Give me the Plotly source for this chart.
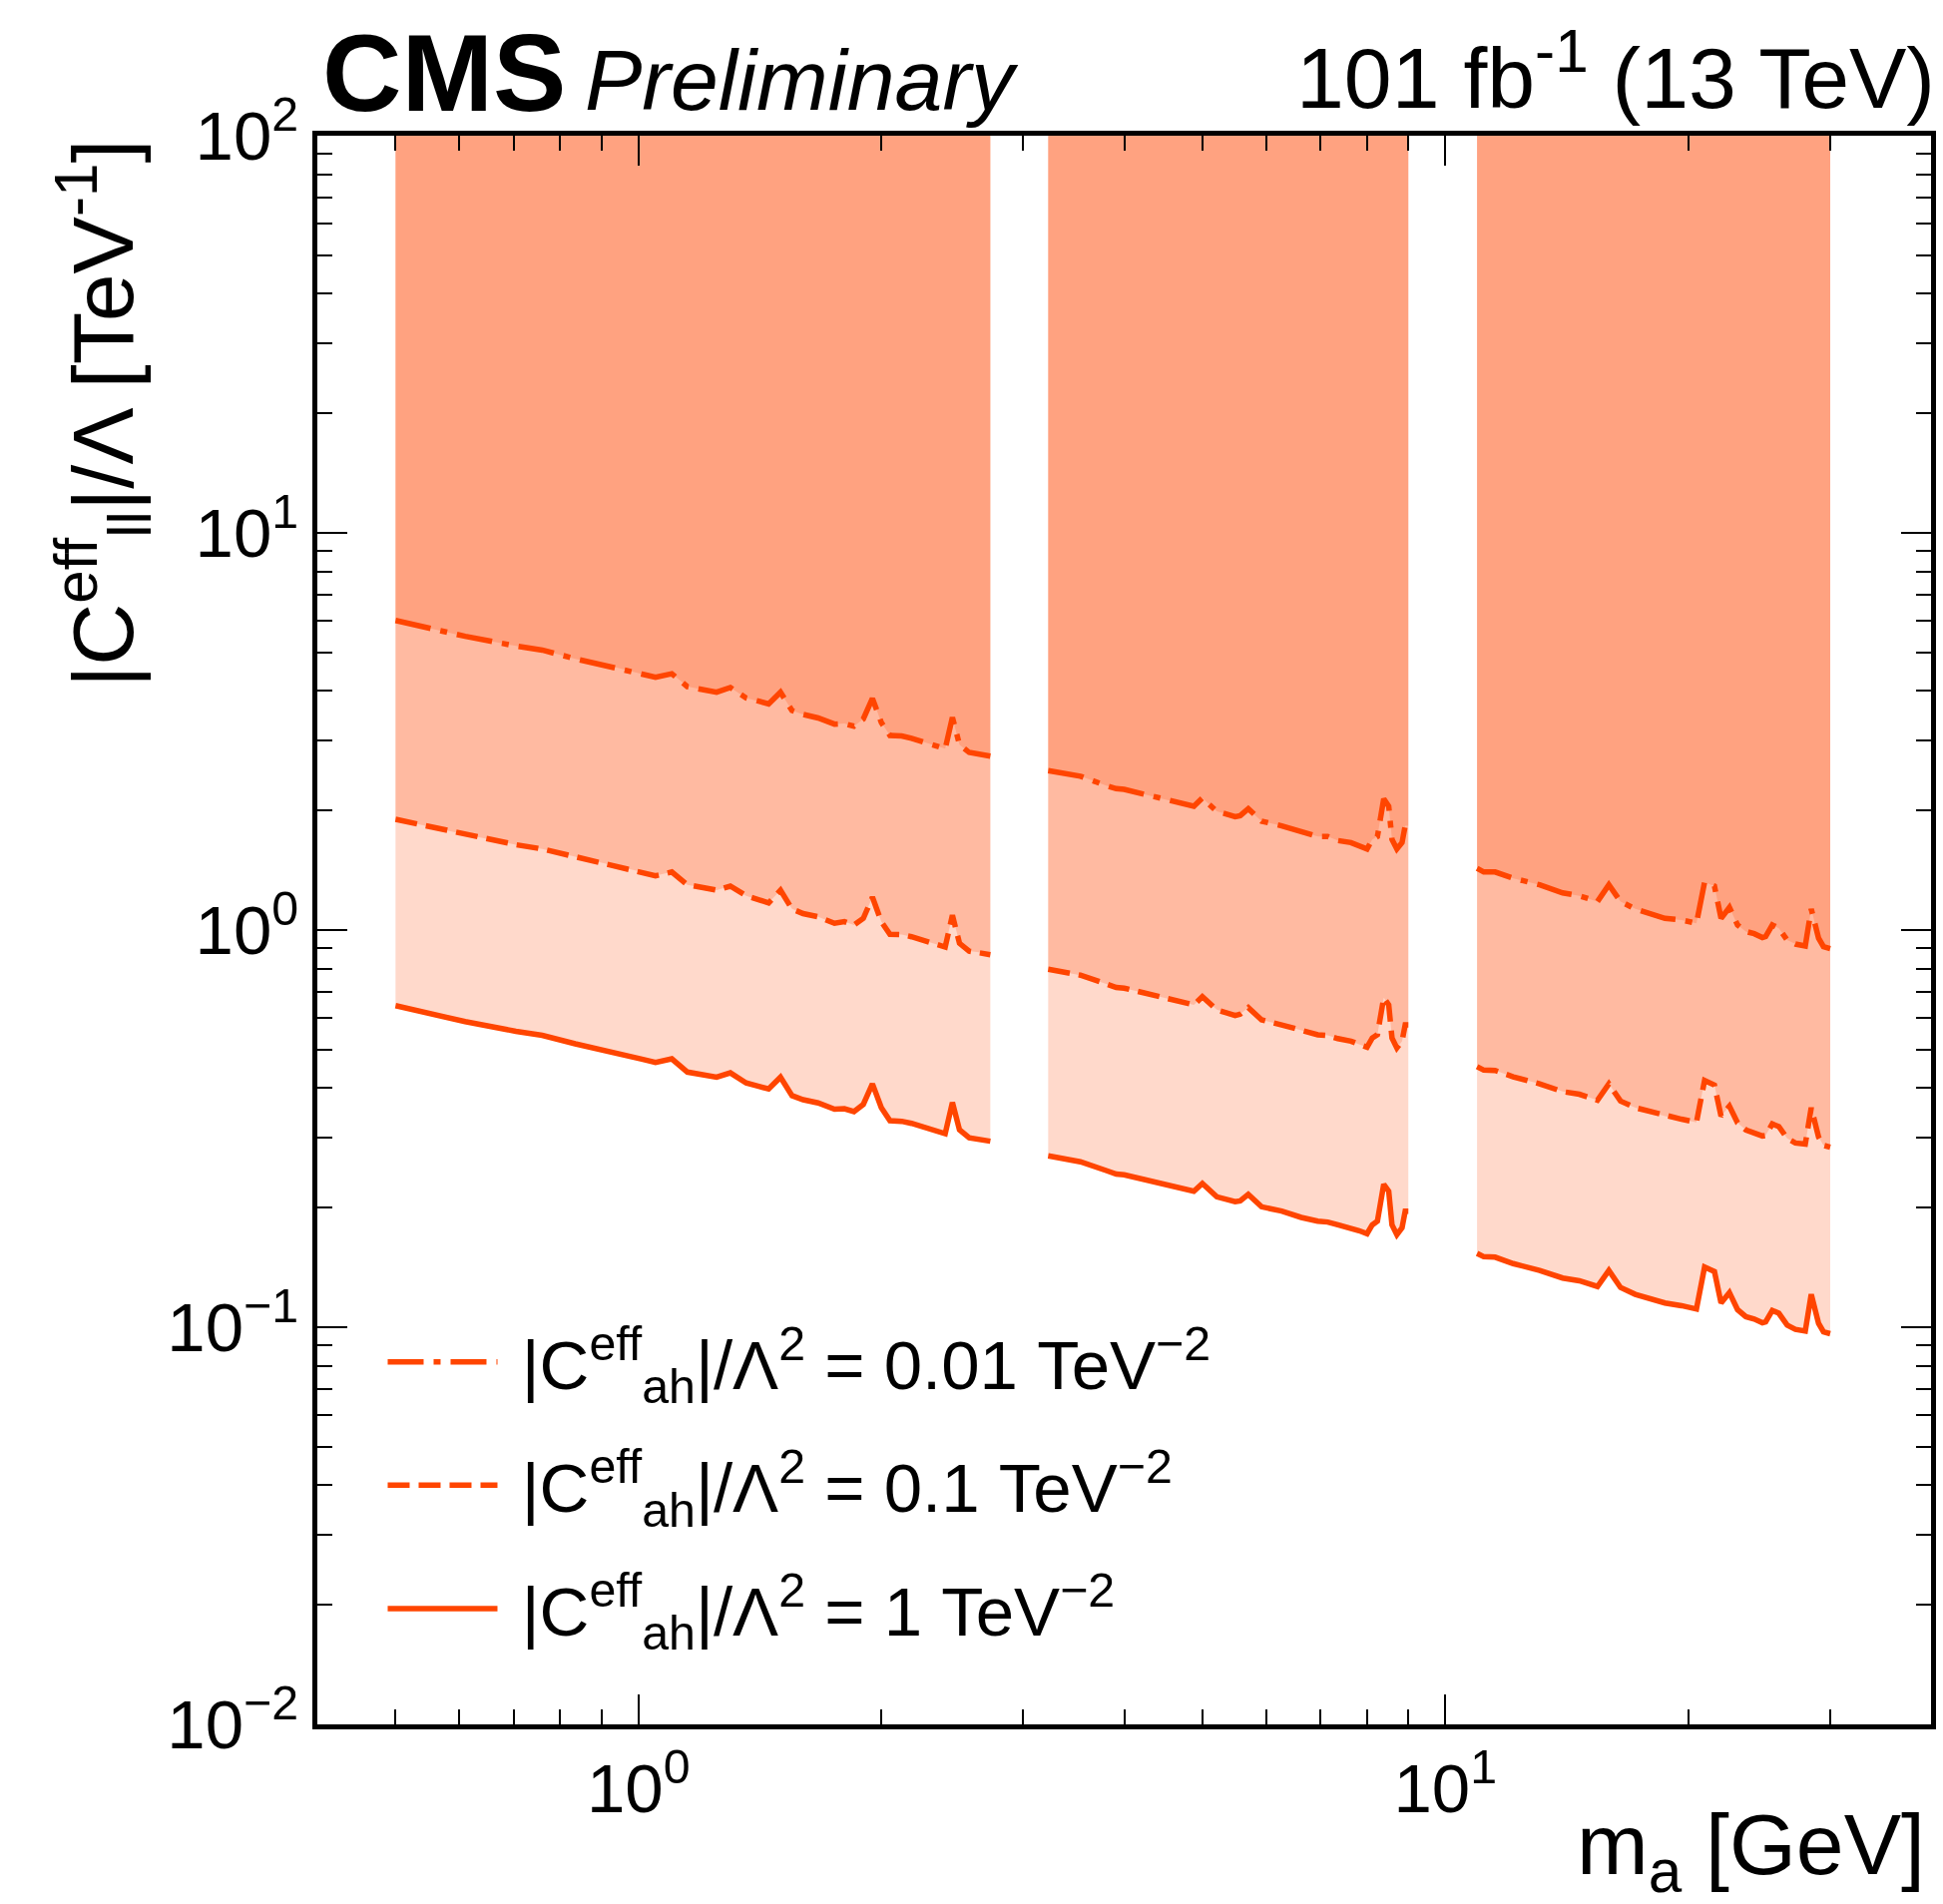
import math
import plotly.graph_objects as go

# ---------------- data ----------------
mass_1 = [0.50, 0.61, 0.705, 0.76, 0.835, 0.94, 1.01, 1.05, 1.10, 1.15, 1.25, 1.30, 1.36, 1.41, 1.45,
          1.50, 1.55, 1.60, 1.67, 1.75, 1.80, 1.85, 1.90, 1.95, 2.00, 2.05, 2.12, 2.18, 2.28, 2.40,
          2.45, 2.50, 2.57, 2.64, 2.73]
mass_2 = [3.22, 3.53, 3.80, 3.91, 4.00, 4.14, 4.46, 4.88, 5.00, 5.21, 5.49, 5.57, 5.70, 5.92, 6.27,
          6.63, 6.95, 7.15, 7.36, 7.64, 7.82, 8.00, 8.12, 8.24, 8.39, 8.51, 8.59, 8.71, 8.84, 8.92, 9.00]
mass_3 = [10.95, 11.16, 11.53, 12.14, 13.09, 13.98, 14.66, 15.44, 15.95, 16.49, 17.20, 18.03, 18.72,
          19.63, 20.48, 20.96, 21.56, 21.97, 22.50, 23.03, 23.58, 24.15, 24.72, 24.95, 25.43, 25.91,
          26.53, 27.16, 27.94, 28.42, 29.02, 29.43, 30.00]

# |C_ah|/Lambda^2 = 1 TeV^-2 (solid)
lim_c1_1 = [0.645, 0.588, 0.556, 0.543, 0.517, 0.491, 0.473, 0.464, 0.474, 0.439, 0.426, 0.437, 0.412,
            0.404, 0.398, 0.426, 0.383, 0.374, 0.367, 0.354, 0.355, 0.349, 0.364, 0.410, 0.357, 0.331,
            0.330, 0.326, 0.317, 0.307, 0.368, 0.314, 0.300, 0.298, 0.294]
lim_c1_2 = [0.270, 0.261, 0.248, 0.243, 0.242, 0.238, 0.230, 0.220, 0.230, 0.213, 0.207, 0.208, 0.216,
            0.201, 0.196, 0.189, 0.185, 0.184, 0.181, 0.178, 0.175, 0.172, 0.181, 0.185, 0.229, 0.220,
            0.181, 0.171, 0.178, 0.196, 0.196]
lim_c1_3 = [0.1535, 0.1505, 0.1501, 0.1446, 0.1390, 0.1330, 0.1309, 0.1266, 0.1390, 0.1259, 0.1210,
            0.1179, 0.1151, 0.1133, 0.1111, 0.1417, 0.1381, 0.1151, 0.1222, 0.1107, 0.1063, 0.1049,
            0.1026, 0.1032, 0.1102, 0.1084, 0.1012, 0.0988, 0.0978, 0.1210, 0.1022, 0.0973, 0.0963]

# |C_ah|/Lambda^2 = 0.1 TeV^-2 (dashed)
lim_c01_1 = [1.90, 1.74, 1.64, 1.60, 1.53, 1.45, 1.40, 1.37, 1.40, 1.30, 1.26, 1.29, 1.22, 1.19, 1.17,
             1.26, 1.13, 1.10, 1.08, 1.04, 1.05, 1.03, 1.07, 1.21, 1.05, 0.976, 0.974, 0.962, 0.935,
             0.906, 1.09, 0.926, 0.885, 0.879, 0.867]
lim_c01_2 = [0.797, 0.770, 0.732, 0.717, 0.714, 0.702, 0.677, 0.648, 0.680, 0.630, 0.609, 0.614, 0.638,
             0.594, 0.577, 0.559, 0.545, 0.543, 0.533, 0.525, 0.517, 0.507, 0.535, 0.545, 0.676, 0.648,
             0.535, 0.505, 0.525, 0.577, 0.577]
lim_c01_3 = [0.453, 0.444, 0.443, 0.427, 0.410, 0.392, 0.386, 0.373, 0.410, 0.371, 0.357, 0.348, 0.340,
             0.334, 0.328, 0.418, 0.407, 0.340, 0.360, 0.327, 0.314, 0.309, 0.303, 0.304, 0.325, 0.320,
             0.299, 0.291, 0.289, 0.357, 0.301, 0.287, 0.284]

# |C_ah|/Lambda^2 = 0.01 TeV^-2 (dash-dot)
lim_c001_1 = [6.02, 5.49, 5.19, 5.07, 4.82, 4.58, 4.41, 4.33, 4.42, 4.10, 3.97, 4.08, 3.84, 3.77, 3.71,
              3.97, 3.57, 3.49, 3.42, 3.30, 3.31, 3.26, 3.40, 3.83, 3.33, 3.09, 3.08, 3.04, 2.96, 2.86,
              3.43, 2.93, 2.80, 2.78, 2.74]
lim_c001_2 = [2.52, 2.44, 2.31, 2.27, 2.26, 2.22, 2.14, 2.05, 2.15, 1.99, 1.93, 1.94, 2.02, 1.88, 1.83,
              1.77, 1.72, 1.72, 1.68, 1.66, 1.63, 1.60, 1.69, 1.72, 2.14, 2.05, 1.69, 1.60, 1.66, 1.83, 1.83]
lim_c001_3 = [1.43, 1.40, 1.40, 1.35, 1.30, 1.24, 1.22, 1.18, 1.30, 1.18, 1.13, 1.10, 1.07, 1.06, 1.04,
              1.32, 1.29, 1.07, 1.14, 1.03, 0.992, 0.979, 0.957, 0.963, 1.03, 1.01, 0.944, 0.922, 0.912,
              1.13, 0.954, 0.908, 0.898]

coupling_labels = ["0.01", "0.1", "1"]

x_range = [0.4, 40]
y_range = [0.01, 100]
x_tickvals = [1, 10]
x_ticktext = ["10<sup>0</sup>", "10<sup>1</sup>"]
y_tickvals = [0.01, 0.1, 1, 10, 100]
y_ticktext = ["10<sup>−2</sup>", "10<sup>−1</sup>", "10<sup>0</sup>", "10<sup>1</sup>", "10<sup>2</sup>"]
x_minor = [0.5, 0.6, 0.7, 0.8, 0.9, 2, 3, 4, 5, 6, 7, 8, 9, 20, 30]
y_minor = ([k * 0.01 for k in range(2, 10)] + [k * 0.1 for k in range(2, 10)]
           + [float(k) for k in range(2, 10)] + [k * 10.0 for k in range(2, 10)])

# ---------------- figure ----------------
FONT = "Liberation Sans, Arial, Helvetica, sans-serif"
LINE_COLOR = "#FF4500"
FILL_COLOR = "rgba(255,69,0,0.205)"
Y_TOP = y_range[1]

masses = [mass_1, mass_2, mass_3]
curves = {
    "0.01": [lim_c001_1, lim_c001_2, lim_c001_3],
    "0.1": [lim_c01_1, lim_c01_2, lim_c01_3],
    "1": [lim_c1_1, lim_c1_2, lim_c1_3],
}
dashes = {"0.01": "36px,10px,7px,10px", "0.1": "22px,9px", "1": "solid"}

fig = go.Figure()

# excluded regions (curve up to the top of the axis)
for lab in coupling_labels:
    for m, c in zip(masses, curves[lab]):
        fig.add_trace(go.Scatter(
            x=list(m) + list(m)[::-1],
            y=list(c) + [Y_TOP] * len(m),
            fill="toself", fillcolor=FILL_COLOR, mode="lines",
            line=dict(width=0, color="rgba(0,0,0,0)"),
            showlegend=False, hoverinfo="skip"))

# limit curves
for lab in coupling_labels:
    name = "\u00a0|C<sup>eff</sup><sub>ah</sub>|/Λ<sup>2</sup> = %s TeV<sup>−2</sup>" % lab
    for i, (m, c) in enumerate(zip(masses, curves[lab])):
        fig.add_trace(go.Scatter(
            x=m, y=c, mode="lines",
            line=dict(color=LINE_COLOR, width=5.5, dash=dashes[lab]),
            name=name, legendgroup=lab, showlegend=(i == 0)))

axis_common = dict(
    type="log", showline=True, linewidth=5, linecolor="black", mirror="allticks",
    ticks="inside", ticklen=30, tickwidth=1.5, tickcolor="black",
    showgrid=False, zeroline=False, tickfont=dict(size=69, family=FONT, color="black"),
)

fig.update_xaxes(
    range=[math.log10(x_range[0]), math.log10(x_range[1])],
    tickmode="array", tickvals=x_tickvals, ticktext=x_ticktext,
    minor=dict(ticks="inside", ticklen=15, tickwidth=1.5, tickcolor="black",
               tickvals=x_minor, showgrid=False),
    **axis_common)
fig.update_yaxes(
    range=[math.log10(y_range[0]), math.log10(y_range[1])],
    tickmode="array", tickvals=y_tickvals, ticktext=y_ticktext,
    minor=dict(ticks="inside", ticklen=15, tickwidth=1.5, tickcolor="black",
               tickvals=y_minor, showgrid=False),
    **axis_common)

fig.update_layout(
    width=1947, height=1908,
    margin=dict(l=318, r=7, t=136, b=180),
    paper_bgcolor="white", plot_bgcolor="white",
    font=dict(family=FONT, color="black", size=66),
    legend=dict(x=0.0405, y=0.04, xanchor="left", yanchor="bottom",
                font=dict(size=69, family=FONT), bgcolor="rgba(0,0,0,0)",
                itemwidth=110, tracegroupgap=31),
    annotations=[
        dict(text="<b>CMS</b>", x=0.002, y=1, xref="paper", yref="paper",
             xanchor="left", yanchor="bottom", showarrow=False, yshift=0,
             font=dict(size=110, family=FONT)),
        dict(text="<i>Preliminary</i>", x=0.1646, y=1, xref="paper", yref="paper",
             xanchor="left", yanchor="bottom", showarrow=False, yshift=6,
             font=dict(size=86, family=FONT)),
        dict(text="101 fb<sup>-1</sup> (13 TeV)", x=1, y=1, xref="paper", yref="paper",
             xanchor="right", yanchor="bottom", showarrow=False, xshift=6, yshift=8,
             font=dict(size=86, family=FONT)),
        dict(text="m<sub>a</sub> [GeV]", x=1, y=0, xref="paper", yref="paper",
             xanchor="right", yanchor="top", showarrow=False, xshift=-4, yshift=-70,
             font=dict(size=86, family=FONT)),
        dict(text="|C<sup>eff</sup><sub>ll</sub>|/Λ [TeV<sup>-1</sup>]", x=-0.1326, y=1,
             xref="paper", yref="paper", xanchor="center", yanchor="top", textangle=-90,
             showarrow=False, yshift=-2, font=dict(size=86, family=FONT)),
    ],
)

fig.write_html("out.html", config={"displayModeBar": False},
               post_script="document.body.style.margin='0';")
